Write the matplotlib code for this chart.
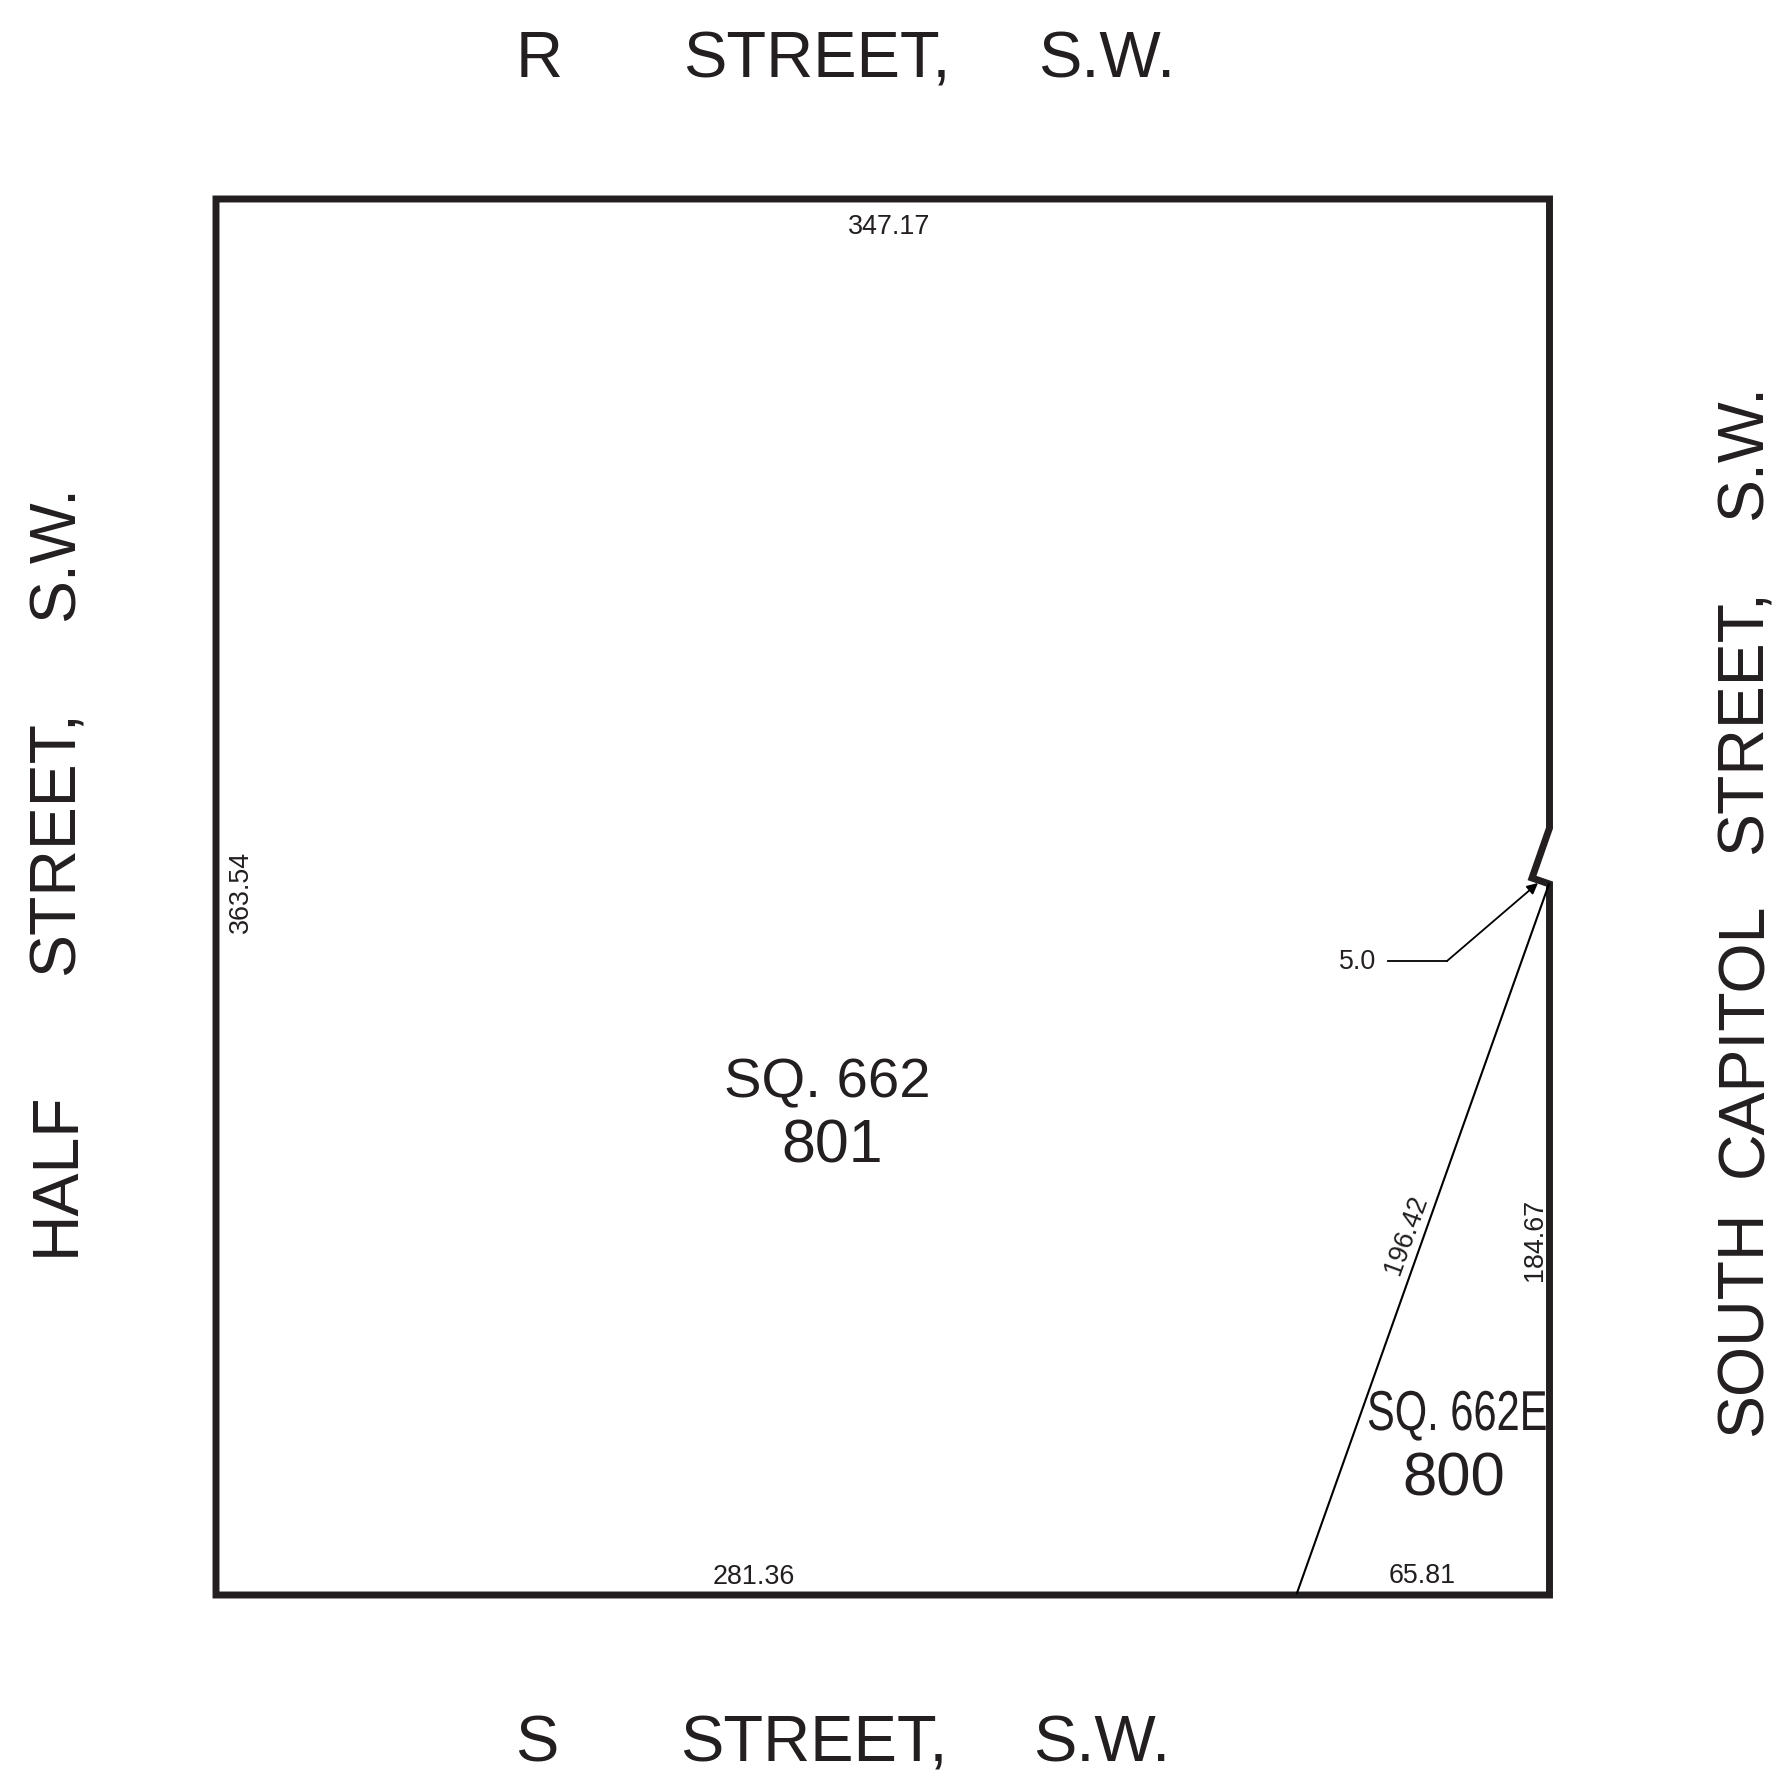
import matplotlib
matplotlib.use("Agg")
from matplotlib import pyplot as plt
from matplotlib import patheffects as pe
from matplotlib.transforms import Affine2D

# outline of the lot, in picture pixels
outline_x = [216, 1549.5, 1549.5, 1532, 1549.5, 1549.5, 216]
outline_y = [199, 199, 828, 878, 884, 1595, 1595]

# line between the two lots
divide_x = [1549, 1297]
divide_y = [884, 1593]

# leader of the 5.0 label
leader_x = [1388, 1447]
leader_y = [961, 961]
arrow_from = (1447, 961)
arrow_to = (1538, 883)

street_names = ["R", "STREET,", "S.W.", "S", "STREET,", "S.W."]
street_x = [539, 817, 1107, 537, 814, 1102]
street_y = [60, 60, 60, 1744, 1744, 1744]

side_names = ["HALF", "STREET,", "S.W.", "SOUTH", "CAPITOL", "STREET,", "S.W."]
side_x = [57, 57, 57, 1745, 1745, 1745, 1745]
side_y = [1174, 843, 553, 1323, 1040, 722, 452]

dim_labels = ["347.17", "363.54", "281.36", "65.81", "184.67", "196.42", "5.0"]
dim_x = [889, 241, 754, 1422, 1535, 1406, 1358]
dim_y = [227, 892, 1577, 1576, 1240, 1235, 962]
dim_rot = [0, 90, 0, 0, 90, 70, 0]


# squeeze text sideways, the plat has a condensed label
class Squeeze(pe.AbstractPathEffect):
    def __init__(self, sx):
        super().__init__()
        self.sx = sx

    def draw_path(self, renderer, gc, tpath, affine, rgbFace=None):
        renderer.draw_path(gc, tpath, Affine2D().scale(self.sx, 1) + affine, rgbFace)


plt.rcParams['font.family'] = ['Liberation Sans', 'DejaVu Sans']

fig = plt.figure(figsize=(17.8, 17.7), dpi=100)
ax = fig.add_axes([0, 0, 1, 1])
ax.set_xlim(0, 1780)
ax.set_ylim(1770, 0)
ax.axis("off")

ink = "#231f20"

ax.fill(outline_x, outline_y, facecolor="none", edgecolor=ink, lw=5, joinstyle="miter")
ax.plot(divide_x, divide_y, color="black", lw=1.5)
ax.plot(leader_x, leader_y, color="black", lw=1.3)
ax.annotate("", xy=arrow_to, xytext=arrow_from,
            arrowprops=dict(arrowstyle="-|>", color="black", lw=1.3, mutation_scale=16, shrinkA=0, shrinkB=0))

for s, x, y in zip(street_names, street_x, street_y):
    ax.text(x, y, s, fontsize=46.8, color=ink, ha="center", va="center")

for s, x, y in zip(side_names, side_x, side_y):
    ax.text(x, y, s, fontsize=46.4, color=ink, ha="center", va="center", rotation=90)

for s, x, y, r in zip(dim_labels, dim_x, dim_y, dim_rot):
    ax.text(x, y, s, fontsize=19.4, color=ink, ha="center", va="center", rotation=r)

ax.text(827, 1083, "SQ. 662", fontsize=40.5, color=ink, ha="center", va="center")
ax.text(832, 1147, "801", fontsize=43.8, color=ink, ha="center", va="center")
t = ax.text(1367, 1416, "SQ. 662E", fontsize=40.5, color=ink, ha="left", va="center")
t.set_path_effects([Squeeze(0.74)])
ax.text(1454, 1480, "800", fontsize=44.5, color=ink, ha="center", va="center")

fig.savefig("out.png", dpi=100)
